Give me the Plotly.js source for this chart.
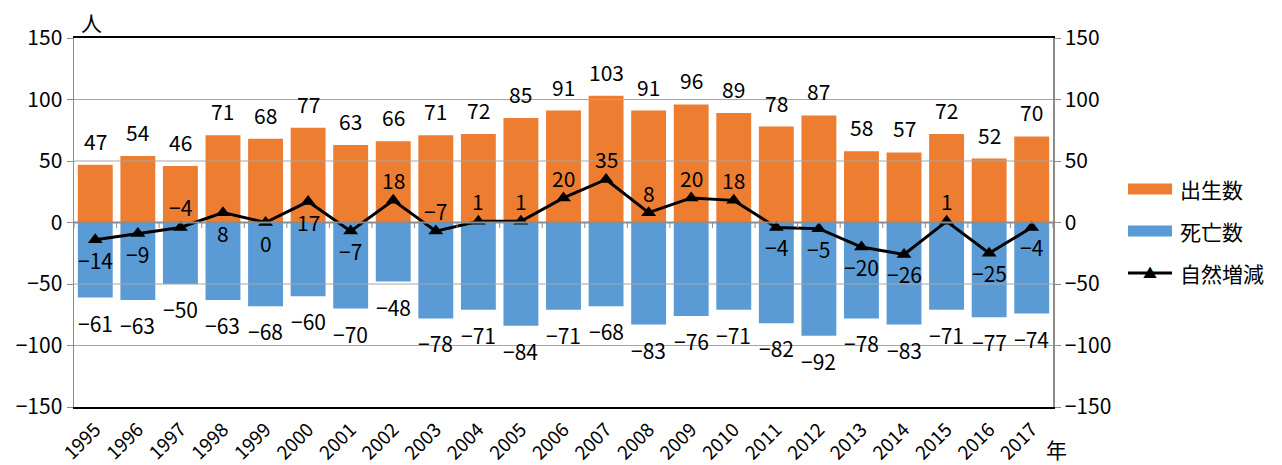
<!DOCTYPE html>
<html>
<head>
<meta charset="utf-8">
<script src="https://cdn.plot.ly/plotly-3.0.1.min.js"></script>
<style>
  html, body { margin: 0; padding: 0; background: #fff; }
  #chart { width: 1282px; height: 465px; }
</style>
</head>
<body>
<div id="chart"></div>
<script>
// 年別の出生数・死亡数・自然増減（人）
const years = ['1995','1996','1997','1998','1999','2000','2001','2002','2003','2004','2005','2006',
               '2007','2008','2009','2010','2011','2012','2013','2014','2015','2016','2017'];
const births = [47, 54, 46, 71, 68, 77, 63, 66, 71, 72, 85, 91, 103, 91, 96, 89, 78, 87, 58, 57, 72, 52, 70];
const deaths = [-61, -63, -50, -63, -68, -60, -70, -48, -78, -71, -84, -71, -68, -83, -76, -71, -82, -92, -78, -83, -71, -77, -74];
const natural = [-14, -9, -4, 8, 0, 17, -7, 18, -7, 1, 1, 20, 35, 8, 20, 18, -4, -5, -20, -26, 1, -25, -4];
const seriesNames = ['出生数', '死亡数', '自然増減'];
const yTicks = [-150, -100, -50, 0, 50, 100, 150];

// 自然増減ラベルを点の上(1)に置くか下(-1)に置くか
const naturalLabelSide = [-1, -1, 1, -1, -1, -1, -1, 1, 1, 1, 1, 1, 1, 1, 1, 1, -1, -1, -1, -1, 1, -1, -1];

const FONT = '"Noto Sans CJK JP", sans-serif';
const ORANGE = '#ED7D31';
const BLUE = '#5B9BD5';
const GRID = '#A6A6A6';
const fmt = v => (v < 0 ? '\u2212' + Math.abs(v) : String(v));

const traces = [
  { type: 'bar', name: seriesNames[0], x: years, y: births, marker: { color: ORANGE }, hoverinfo: 'x+y' },
  { type: 'bar', name: seriesNames[1], x: years, y: deaths, marker: { color: BLUE }, hoverinfo: 'x+y' },
  { type: 'scatter', mode: 'lines+markers', name: seriesNames[2], x: years, y: natural, yaxis: 'y2',
    line: { color: '#000', width: 3 }, marker: { symbol: 'triangle-up', size: 13, color: '#000' } }
];

const annotations = [];
years.forEach((yr, i) => {
  annotations.push({ x: i, y: births[i], xref: 'x', yref: 'y', text: fmt(births[i]), showarrow: false, yshift: 24 });
  annotations.push({ x: i, y: deaths[i], xref: 'x', yref: 'y', text: fmt(deaths[i]), showarrow: false, yshift: -25 });
  annotations.push({ x: i, y: natural[i], xref: 'x', yref: 'y2', text: fmt(natural[i]), showarrow: false,
                     yshift: 20 * naturalLabelSide[i] });
});
// 単位
annotations.push({ xref: 'paper', yref: 'paper', x: 0.0174, y: 1.043, xanchor: 'center', yanchor: 'middle',
                   text: '人', showarrow: false });
annotations.push({ xref: 'paper', yref: 'paper', x: 1.004, y: -0.114, xanchor: 'center', yanchor: 'middle',
                   text: '年', showarrow: false });

// 凡例（横長の見本）
const legX0 = 1.0766, legX1 = 1.1216, legTextX = 1.1277;
const legY = [0.5908, 0.477, 0.3631];
const shapes = [];
[ORANGE, BLUE].forEach((c, k) => {
  shapes.push({ type: 'rect', xref: 'paper', yref: 'paper', x0: legX0, x1: legX1,
                y0: legY[k] - 0.0149, y1: legY[k] + 0.0149, fillcolor: c, line: { width: 0 } });
});
shapes.push({ type: 'line', xref: 'paper', yref: 'paper', x0: legX0, x1: legX1, y0: legY[2], y1: legY[2],
              line: { color: '#000', width: 3 } });
annotations.push({ xref: 'paper', yref: 'paper', x: (legX0 + legX1) / 2, y: legY[2], text: '▲',
                   xanchor: 'center', yanchor: 'middle',
                   showarrow: false, font: { size: 14, color: '#000' }, yshift: 1 });
seriesNames.forEach((n, k) => {
  annotations.push({ xref: 'paper', yref: 'paper', x: legTextX, y: legY[k], xanchor: 'left', yanchor: 'middle',
                     text: n, showarrow: false, font: { size: 21 } });
});

// 目盛線（棒の上に描く）
[-100, -50, 50, 100].forEach(v => {
  shapes.push({ type: 'line', xref: 'paper', yref: 'y', x0: 0, x1: 1, y0: v, y1: v,
                layer: 'above', line: { color: GRID, width: 1 } });
});
shapes.push({ type: 'line', xref: 'paper', yref: 'y', x0: 0, x1: 1, y0: 0, y1: 0,
              layer: 'above', line: { color: '#8C8C8C', width: 2 } });
// 0の線上の区切り目盛
for (let i = 0; i <= years.length; i++) {
  const px = i / years.length;
  shapes.push({ type: 'line', xref: 'paper', yref: 'y', x0: px, x1: px, y0: 0, y1: -4.5,
                layer: 'above', line: { color: '#8C8C8C', width: 1 } });
}

const yCommon = {
  range: [-150, 150], tickvals: yTicks, ticktext: yTicks.map(fmt), showgrid: false, zeroline: false,
  showline: true, linecolor: '#8C8C8C', linewidth: 1.5, ticks: 'outside', ticklen: 6, tickcolor: '#8C8C8C',
  tickfont: { size: 21 }, fixedrange: true
};

const layout = {
  width: 1282, height: 465,
  margin: { l: 74, r: 229, t: 38, b: 58 },
  paper_bgcolor: '#fff', plot_bgcolor: '#fff',
  font: { family: FONT, size: 21, color: '#000' },
  barmode: 'relative', bargap: 0.18,
  showlegend: false,
  xaxis: { type: 'category', range: [-0.5, years.length - 0.5], tickangle: -45, showline: true,
           linecolor: '#000', linewidth: 2, mirror: true, ticks: '', showgrid: false,
           ticklabelstandoff: 2, automargin: false,
           tickfont: { size: 19 }, fixedrange: true },
  yaxis: Object.assign({}, yCommon, { side: 'left' }),
  yaxis2: Object.assign({}, yCommon, { side: 'right', overlaying: 'y' }),
  annotations: annotations,
  shapes: shapes
};

Plotly.newPlot('chart', traces, layout, { staticPlot: true, displayModeBar: false });
</script>
</body>
</html>
